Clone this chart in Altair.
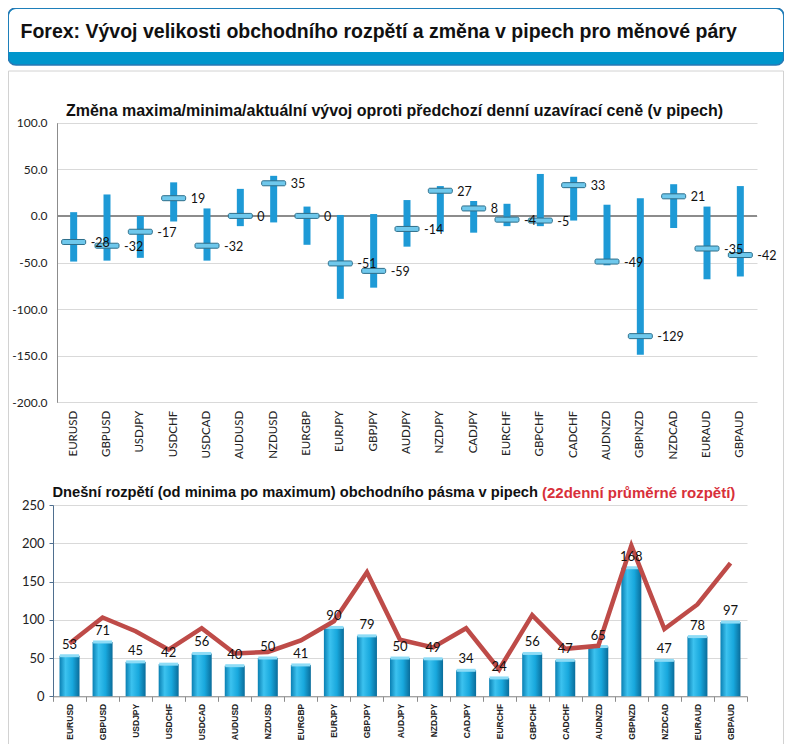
import altair as alt
import pandas as pd

pairs = ["EURUSD", "GBPUSD", "USDJPY", "USDCHF", "USDCAD", "AUDUSD", "NZDUSD",
         "EURGBP", "EURJPY", "GBPJPY", "AUDJPY", "NZDJPY", "CADJPY", "EURCHF",
         "GBPCHF", "CADCHF", "AUDNZD", "GBPNZD", "NZDCAD", "EURAUD", "GBPAUD"]
high = [4, 23, 0, 36, 8, 29, 43, 10, 1, 2, 17, 32, 16, 13, 45, 42, 12, 19, 34, 10, 32]
low = [-49, -48, -45, -6, -48, -11, -7, -31, -89, -77, -33, -17, -18, -11, -11, -5, -53, -149, -13, -68, -65]
current = [-28, -32, -17, 19, -32, 0, 35, 0, -51, -59, -14, 27, 8, -4, -5, 33, -49, -129, 21, -35, -42]
today_range = [53, 71, 45, 42, 56, 40, 50, 41, 90, 79, 50, 49, 34, 24, 56, 47, 65, 168, 47, 78, 97]
avg22 = [69, 103, 85, 61, 89, 56, 58, 73, 98, 162, 74, 64, 89, 35, 106, 62, 66, 197, 88, 120, 174]

top_ticks = [-200, -150, -100, -50, 0, 50, 100]
bot_ticks = [0, 50, 100, 150, 200, 250]

W, H = 776, 736

df_top = pd.DataFrame({"pair": pairs, "high": high, "low": low, "cur": current,
                       "curtxt": [str(v) for v in current]})
df_bot = pd.DataFrame({"pair": pairs, "rng": today_range, "avg": avg22,
                       "rngtxt": [str(v) for v in today_range]})

one = alt.Data(values=[{"k": 1}])


def box(x, x2, y, y2, **kw):
    return alt.Chart(one).mark_rect(**kw).encode(
        x=alt.value(x), x2=alt.value(x2), y=alt.value(y), y2=alt.value(y2))


def label(text, x, y, **kw):
    return alt.Chart(one).mark_text(text=text, **kw).encode(x=alt.value(x), y=alt.value(y))


# ---------- decorations ----------
decor = [
    box(0, W, 0, 57, color="#0096cc", cornerRadius=8),
    box(1, W - 1, 1, 44, color="white", cornerRadius=7),
    box(1, W - 1, 20, 44, color="white"),
    box(0, W, 0, 57, filled=False, color="#2878b4", strokeWidth=1.5, cornerRadius=8),
    box(0.5, W - 0.5, 63, 760, filled=False, color="#d2d2d2", strokeWidth=1),
]

# ---------- top chart ----------
xs_top = alt.Scale(domain=pairs, range=[49, 749], paddingInner=0, paddingOuter=0)
ys_top = alt.Scale(domain=[-200, 100], range=[394.3, 114.7], nice=False, zero=False)
ax_top = alt.Axis(orient="bottom", offset=394.3 - H, domain=False, ticks=False, grid=False,
                  labelAngle=270, labelPadding=8, labelFont="Lato", labelFontSize=11.5,
                  labelColor="#222222", title=None)
ay_top = alt.Axis(orient="left", offset=-49, values=top_ticks, grid=True,
                  labelExpr="replace(format(datum.value, '.1f'), '\u2212', '-')",
                  gridColor="#d9d9d9", domainColor="#8c8c8c", ticks=False, labelPadding=10,
                  labelFont="Lato", labelFontSize=12, labelColor="#222222", title=None)

X_top = alt.X("pair:N", scale=xs_top, axis=ax_top, sort=pairs)

t_bars = alt.Chart().mark_bar(size=7, color="#1e9ad6").encode(
    x=X_top, y=alt.Y("low:Q", scale=ys_top, axis=ay_top), y2="high:Q")
t_zero = alt.Chart().mark_rule(color="#8c8c8c", strokeWidth=1).encode(
    x=alt.value(49), x2=alt.value(749),
    y=alt.Y(datum=0, type="quantitative", scale=ys_top, axis=ay_top))
t_mark = alt.Chart().mark_tick(size=24, thickness=5, color="#6fc8ec", stroke="#2e6e8a",
                               strokeWidth=1, cornerRadius=1.5, opacity=1).encode(
    x=X_top, y=alt.Y("cur:Q", scale=ys_top, axis=ay_top))
t_text = alt.Chart().mark_text(align="left", dx=17, dy=1, font="Lato", fontSize=12.5,
                               color="#111111").encode(
    x=X_top, y=alt.Y("cur:Q", scale=ys_top, axis=ay_top), text="curtxt:N")

top_layer = alt.layer(t_zero, t_bars, t_mark, t_text, data=df_top)

# ---------- bottom chart ----------
xs_bot = alt.Scale(domain=pairs, range=[45, 739], paddingInner=0, paddingOuter=0)
ys_bot = alt.Scale(domain=[0, 250], range=[688.3, 497], nice=False)
ax_bot = alt.Axis(orient="bottom", offset=688.3 - H, domainColor="#8c8c8c", tickColor="#8c8c8c",
                  tickSize=5, tickBand="extent", grid=False, labelAngle=270, labelPadding=2,
                  labelFont="Liberation Sans", labelFontSize=8.5, labelFontWeight="bold",
                  labelColor="#222222", title=None)
ay_bot = alt.Axis(orient="left", offset=-45, values=bot_ticks, grid=True, gridColor="#d9d9d9",
                  domainColor="#4f6f8f", tickColor="#4f6f8f", tickSize=4, labelPadding=5,
                  labelFont="Lato", labelFontSize=13, labelColor="#222222", title=None)

X_bot = alt.X("pair:N", scale=xs_bot, axis=ax_bot, sort=pairs)

grad = alt.Gradient(gradient="linear", x1=0, x2=1, y1=0, y2=0, stops=[
    alt.GradientStop(color="#0a7fb2", offset=0),
    alt.GradientStop(color="#3cc2ef", offset=0.3),
    alt.GradientStop(color="#18a8dd", offset=0.65),
    alt.GradientStop(color="#0a6c9a", offset=1),
])

b_bars = alt.Chart().mark_bar(size=20, color=grad).encode(
    x=X_bot, y=alt.Y("rng:Q", scale=ys_bot, axis=ay_bot))
b_cap = alt.Chart().mark_tick(size=19, thickness=3, color="#8edcf6", opacity=1).encode(
    x=X_bot, y=alt.Y("rng:Q", scale=ys_bot, axis=ay_bot))
b_line = alt.Chart().mark_line(color="#be4b48", strokeWidth=4.5).encode(
    x=X_bot, y=alt.Y("avg:Q", scale=ys_bot, axis=ay_bot))
b_text = alt.Chart().mark_text(baseline="bottom", dy=-4, font="Lato", fontSize=13,
                               color="#111111").encode(
    x=X_bot, y=alt.Y("rng:Q", scale=ys_bot, axis=ay_bot), text="rngtxt:N")

bot_layer = alt.layer(b_bars, b_cap, b_line, b_text, data=df_bot)

# ---------- titles ----------
titles = [
    label("Forex: Vývoj velikosti obchodního rozpětí a změna v pipech pro měnové páry",
          12.5, 23.5, align="left", baseline="middle", font="Liberation Sans", fontSize=19.5,
          fontWeight="bold", color="#111111"),
    label("Změna maxima/minima/aktuální vývoj oproti předchozí denní uzavírací ceně (v pipech)",
          386.5, 103, align="center", baseline="middle", font="Liberation Sans", fontSize=16,
          fontWeight="bold", color="#111111"),
    label("Dnešní rozpětí (od minima po maximum) obchodního pásma v pipech",
          530, 485, align="right", baseline="middle", font="Liberation Sans", fontSize=14.7,
          fontWeight="bold", color="#111111"),
    label("(22denní průměrné rozpětí)",
          534, 485, align="left", baseline="middle", font="Liberation Sans", fontSize=15,
          fontWeight="bold", color="#d8303a"),
]

chart = alt.layer(*decor, top_layer, bot_layer, *titles).resolve_scale(
    x="independent", y="independent").resolve_axis(x="independent", y="independent").properties(
    width=W, height=H, padding=0, autosize=alt.AutoSizeParams(type="none"),
    background="white").configure_view(strokeWidth=0)

chart.save("out.html", embed_options={"renderer": "svg", "actions": False})
